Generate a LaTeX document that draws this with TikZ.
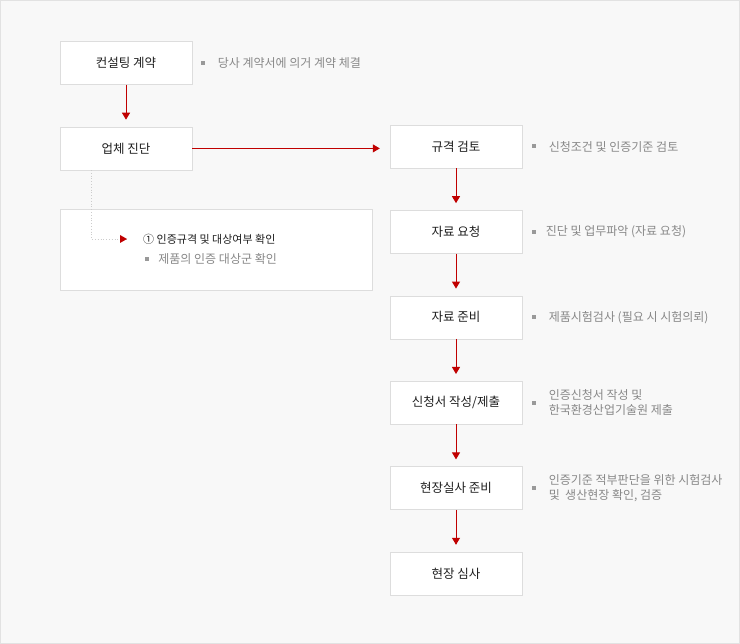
\documentclass[tikz,border=0pt]{standalone}
\usepackage{fontspec}
\setmainfont{Noto Sans CJK KR}
\usetikzlibrary{positioning,arrows.meta}
\definecolor{flowred}{HTML}{C00000}
\definecolor{boxline}{HTML}{DDDDDD}
\definecolor{boxtext}{HTML}{1E1E1E}
\definecolor{notegray}{HTML}{888888}
\definecolor{bulletgray}{HTML}{999999}
\definecolor{bggray}{HTML}{F8F8F8}
\definecolor{framegray}{HTML}{E2E2E2}
\definecolor{leadergray}{HTML}{CCCCCC}

\begin{document}
\begin{tikzpicture}
        [ x = 1pt, y = -1pt
        , stage/.style =
          { draw=boxline, fill=white, minimum width=132pt, minimum height=43pt
          , inner sep=0pt, text=boxtext, font=\fontsize{12.5}{14}\selectfont }
        , panel/.style =
          { draw=boxline, fill=white, minimum width=312pt, minimum height=81pt, inner sep=0pt }
        , dot/.style =
          { fill=bulletgray, minimum size=4pt, inner sep=0pt }
        , note/.style =
          { text=notegray, align=left, inner sep=0pt, font=\fontsize{12}{15}\selectfont }
        , flow/.style =
          { draw=flowred, line width=1pt, -{Triangle[width=8pt,length=7pt]}, shorten >=7pt }
        , leader/.style =
          { draw=leadergray, dotted, line width=.8pt }
        ]
        \fill [bggray, draw=framegray] (0.5,0.5) rectangle (739.5,643.5);
        \useasboundingbox (0,0) rectangle (740,644);

        % left column
        \node [stage] (contract) at (126,63) {컨설팅 계약};
        \node [stage] (diagnose) [below=42pt of contract] {업체 진단};
        \node [panel] (detail) at (216,249.5) {};

        % right column
        \node [stage] (review) at (456,146.5) {규격 검토};
        \node [stage] (request) [below=42pt of review] {자료 요청};
        \node [stage] (prepare) [below=42pt of request] {자료 준비};
        \node [stage] (submit) [below=42pt of prepare] {신청서 작성/제출};
        \node [stage] (onsiteprep) [below=42pt of submit] {현장실사 준비};
        \node [stage] (audit) [below=42pt of onsiteprep] {현장 심사};

        % notes
        \node [dot] (b0) [right=9pt of contract] {};
        \node [note] (n0) [right=12pt of b0] {당사 계약서에 의거 계약 체결};
        \node [dot] (b1) [right=10pt of review] {};
        \node [note] (n1) [right=12pt of b1] {신청조건 및 인증기준 검토};
        \node [dot] (b2) [right=10pt of request] {};
        \node [note] (n2) [right=9pt of b2] {진단 및 업무파악 (자료 요청)};
        \node [dot] (b3) [right=10pt of prepare] {};
        \node [note] (n3) [right=12pt of b3] {제품시험검사 (필요 시 시험의뢰)};
        \node [dot] (b4) [right=10pt of submit] {};
        \node [note] (n4) [right=12pt of b4] {인증신청서 작성 및\\한국환경산업기술원 제출};
        \node [dot] (b5) [right=10pt of onsiteprep] {};
        \node [note] (n5) [right=12pt of b5] {인증기준 적부판단을 위한 시험검사\\및 \ 생산현장 확인, 검증};

        % detail panel
        \coordinate (bend) at (91,239);
        \coordinate (mark) at (127,239);
        \node [note, anchor=west, text=boxtext, font=\fontsize{11}{15}\selectfont] (head) at (143,239) {① 인증규격 및 대상여부 확인};
        \node [dot] (b6) at (147,259) {};
        \node [note] (n6) [right=9pt of b6] {제품의 인증 대상군 확인};

        \draw [flow] (contract) -- (diagnose);
        \draw [flow, shorten >=10pt] (diagnose.east) -- (diagnose.east -| review.west);
        \draw [flow] (review) -- (request);
        \draw [flow] (request) -- (prepare);
        \draw [flow] (prepare) -- (submit);
        \draw [flow] (submit) -- (onsiteprep);
        \draw [flow] (onsiteprep) -- (audit);
        \draw [leader] (diagnose.south -| bend) -- (bend) -- (mark);
        \fill [flowred] (mark) -- ++(-7,-4) -- ++(0,8) -- cycle;
      \end{tikzpicture}
\end{document}
